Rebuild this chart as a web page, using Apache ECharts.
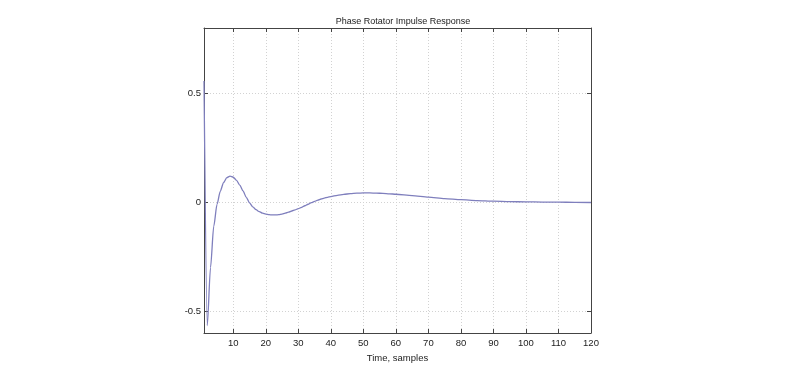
<!DOCTYPE html>
<html>
<head>
<meta charset="utf-8">
<script src="https://cdn.jsdelivr.net/npm/echarts@6/dist/echarts.min.js"></script>
<style>
html,body{margin:0;padding:0;background:#fff;}
#chart{width:800px;height:382px;}
</style>
</head>
<body>
<div id="chart"></div>
<script>
const titleText = 'Phase Rotator Impulse Response';
const xAxisName = 'Time, samples';
const xTicks = [10, 20, 30, 40, 50, 60, 70, 80, 90, 100, 110, 120];
const yTicks = [-0.5, 0, 0.5];
const sampleIndex = [1,2,3,4,5,6,7,8,9,10,11,12,13,14,15,16,17,18,19,20,21,22,23,24,25,26,27,28,29,30,31,32,33,34,35,36,37,38,39,40,42,44,46,48,50,52,54,56,58,60,65,70,75,80,85,90,95,100,105,110,115,120];
const response = [0.557,-0.566,-0.30,-0.11,-0.01,0.05,0.09,0.113,0.12,0.115,0.101,0.079,0.052,0.023,-0.003,-0.021,-0.034,-0.043,-0.05,-0.054,-0.057,-0.058,-0.058,-0.057,-0.054,-0.05,-0.045,-0.04,-0.035,-0.029,-0.023,-0.016,-0.009,-0.002,0.004,0.01,0.015,0.019,0.023,0.026,0.032,0.036,0.04,0.042,0.043,0.043,0.042,0.041,0.039,0.037,0.031,0.024,0.017,0.012,0.008,0.005,0.003,0.002,0.001,0.0005,0,-0.001];

const font = 'Liberation Sans, Arial, Helvetica, sans-serif';
const axisColor = '#444';
const gridStyle = {show: true, lineStyle: {color: '#d2d2d2', type: [1, 2], width: 1}};

const chart = echarts.init(document.getElementById('chart'), null, {renderer: 'canvas'});
const xBase = {
  type: 'value', min: 1, max: 120,
  axisLine: {show: true, onZero: false, lineStyle: {color: axisColor, width: 1}},
  axisTick: {show: true, inside: true, length: 4, customValues: xTicks, lineStyle: {color: axisColor}},
};
const yBase = {
  type: 'value', min: -0.6, max: 0.8,
  axisLine: {show: true, onZero: false, lineStyle: {color: axisColor, width: 1}},
  axisTick: {show: true, inside: true, length: 4, customValues: yTicks, lineStyle: {color: axisColor}},
};
chart.setOption({
  animation: false,
  backgroundColor: '#fff',
  title: {
    text: titleText, left: 398, textAlign: 'center', top: 12,
    textStyle: {fontFamily: font, fontSize: 9, fontWeight: 'normal', color: '#222'}
  },
  grid: {left: 204, right: 209, top: 28, bottom: 49, containLabel: false},
  xAxis: [
    Object.assign({}, xBase, {
      position: 'bottom',
      name: xAxisName, nameLocation: 'middle', nameGap: 15,
      nameTextStyle: {fontFamily: font, fontSize: 9.5, color: '#222'},
      axisLabel: {show: true, customValues: xTicks, margin: 5, fontFamily: font, fontSize: 9.5, color: '#222'},
      splitLine: gridStyle
    }),
    Object.assign({}, xBase, {position: 'top', axisLabel: {show: false}, splitLine: {show: false}})
  ],
  yAxis: [
    Object.assign({}, yBase, {
      position: 'left',
      axisLabel: {show: true, customValues: yTicks, margin: 3, fontFamily: font, fontSize: 9.5, color: '#222',
        formatter: v => (v === 0 ? '0' : String(v))},
      splitLine: gridStyle
    }),
    Object.assign({}, yBase, {position: 'right', axisLabel: {show: false}, splitLine: {show: false}})
  ],
  series: [{
    type: 'line',
    data: sampleIndex.map((x, i) => [x, response[i]]),
    xAxisIndex: 0, yAxisIndex: 0,
    showSymbol: false, symbol: 'none',
    smooth: 0.25,
    smoothMonotone: 'x',
    lineStyle: {color: '#7f7fbd', width: 1.3},
    z: 5
  }]
});
</script>
</body>
</html>
